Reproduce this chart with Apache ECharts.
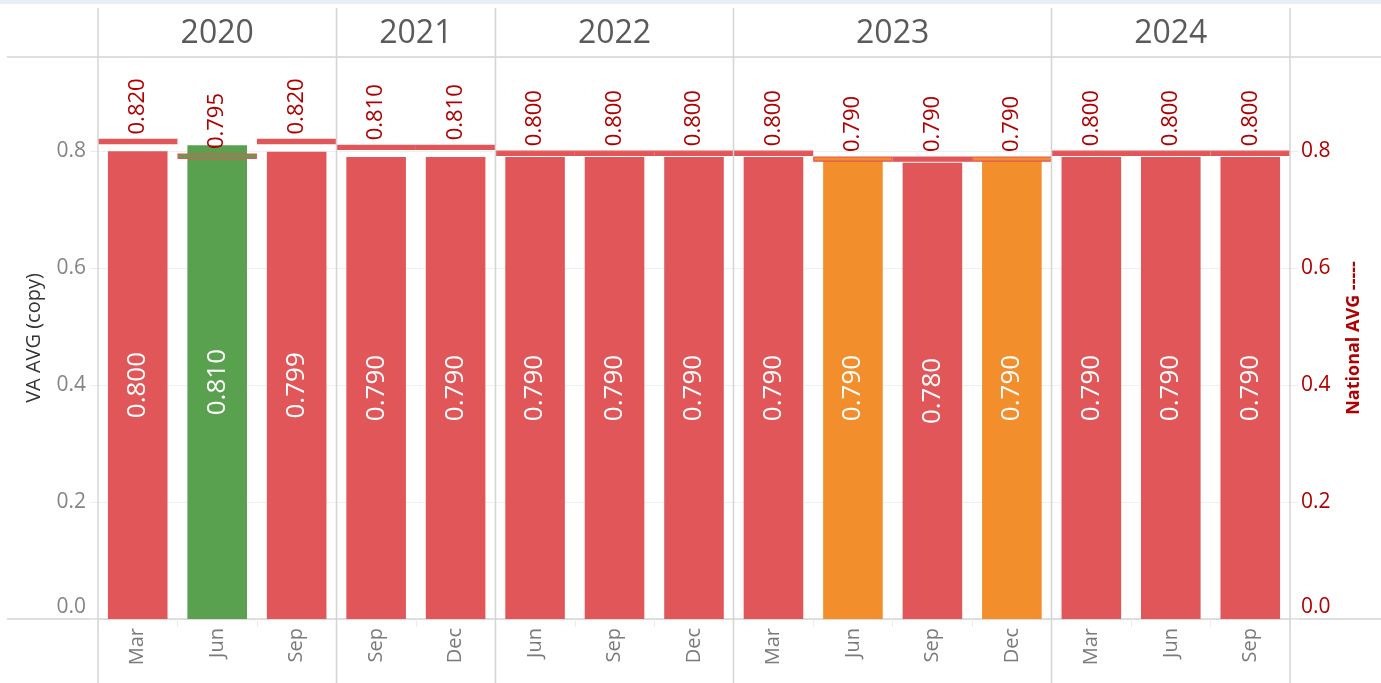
<!DOCTYPE html>
<html>
<head>
<meta charset="utf-8">
<script src="https://cdn.jsdelivr.net/npm/echarts@6/dist/echarts.min.js"></script>
<style>
  html, body { margin: 0; padding: 0; background: #fff; }
  #chart { width: 1381px; height: 683px; }
</style>
</head>
<body>
<div id="chart"></div>
<script>
// Quarter-end periods, grouped by year
const periods = ['Mar', 'Jun', 'Sep', 'Sep', 'Dec', 'Jun', 'Sep', 'Dec', 'Mar', 'Jun', 'Sep', 'Dec', 'Mar', 'Jun', 'Sep'];
const periodYears = ['2020', '2020', '2020', '2021', '2021', '2022', '2022', '2022', '2023', '2023', '2023', '2023', '2024', '2024', '2024'];
const years = ['2020', '2021', '2022', '2023', '2024'];

// VA average (bars) and national average (reference marks)
const vaAvg = [0.800, 0.810, 0.799, 0.790, 0.790, 0.790, 0.790, 0.790, 0.790, 0.790, 0.780, 0.790, 0.790, 0.790, 0.790];
const nationalAvg = [0.820, 0.795, 0.820, 0.810, 0.810, 0.800, 0.800, 0.800, 0.800, 0.790, 0.790, 0.790, 0.800, 0.800, 0.800];

const RED = '#e15759', GREEN = '#59a14f', ORANGE = '#f28e2b';
const LABEL_RED = '#b00000';
const FONT = '"Open Sans", "Noto Sans", sans-serif';
const Y_MAX = 0.961;

function markColor(i) {
  const a = Math.round(vaAvg[i] * 1000), b = Math.round(nationalAvg[i] * 1000);
  if (a > b) return GREEN;
  if (a === b) return ORANGE;
  return RED;
}

function tickFormatter(v) {
  const r = Math.round(v * 10) / 10;
  if (Math.abs(v - r) > 1e-6 || Math.round(r * 10) % 2 !== 0) return '';
  return r === 0 ? '{z|0.0}' : r.toFixed(1);
}

const chart = echarts.init(document.getElementById('chart'), null, { renderer: 'canvas' });

const option = {
  animation: false,
  backgroundColor: '#fff',
  grid: { left: 98, right: 91, top: 57, bottom: 64, containLabel: false },
  xAxis: {
    type: 'category',
    data: periods,
    axisLine: { show: false },
    axisTick: { show: true, interval: 0, length: 8, lineStyle: { color: '#ececec' } },
    axisLabel: {
      interval: 0, rotate: 90, margin: 9,
      color: '#7a7a7a', fontSize: 20, fontFamily: FONT
    }
  },
  yAxis: [
    {
      type: 'value', min: 0, max: Y_MAX, interval: 0.2,
      name: 'VA AVG (copy)', nameLocation: 'middle', nameRotate: 90, nameGap: 54,
      nameTextStyle: { color: '#333', fontSize: 20, fontFamily: FONT },
      axisLine: { show: false },
      axisTick: { show: true, length: 8, lineStyle: { color: '#ececec' } },
      axisLabel: {
        margin: 12, color: '#858585', fontSize: 21, fontFamily: FONT,
        formatter: tickFormatter, showMaxLabel: false,
        rich: { z: { padding: [0, 0, 24, 0], color: '#858585', fontSize: 21, fontFamily: FONT } }
      },
      splitLine: { show: true, lineStyle: { color: '#f0f0f0', width: 1 } }
    },
    {
      type: 'value', min: 0, max: Y_MAX, interval: 0.2, position: 'right',
      name: 'National AVG -----', nameLocation: 'middle', nameRotate: 90, nameGap: 55,
      nameTextStyle: { color: LABEL_RED, fontSize: 18, fontWeight: 'bold', fontFamily: FONT },
      axisLine: { show: false },
      axisTick: { show: true, length: 8, lineStyle: { color: '#ececec' } },
      axisLabel: {
        margin: 11, color: LABEL_RED, fontSize: 21, fontFamily: FONT,
        formatter: tickFormatter, showMaxLabel: false,
        rich: { z: { padding: [0, 0, 24, 0], color: LABEL_RED, fontSize: 21, fontFamily: FONT } }
      },
      splitLine: { show: false }
    }
  ],
  series: [
    {
      name: 'VA AVG',
      type: 'bar',
      yAxisIndex: 0,
      barWidth: '75%',
      data: vaAvg,
      itemStyle: { color: p => markColor(p.dataIndex) },
      label: {
        show: true, position: 'inside', rotate: 90,
        color: '#fff', fontSize: 26, fontFamily: FONT,
        formatter: p => p.value.toFixed(3)
      },
      z: 2
    },
    {
      name: 'National AVG',
      type: 'custom',
      yAxisIndex: 1,
      data: nationalAvg.map((v, i) => [i, v]),
      encode: { x: 0, y: 1 },
      z: 5,
      renderItem: function (params, api) {
        const i = params.dataIndex;
        const v = api.value(1);
        const p = api.coord([api.value(0), v]);
        const w = api.size([1, 0])[0];
        return {
          type: 'group',
          children: [
            {
              type: 'rect',
              shape: { x: p[0] - w / 2 + 0.6, y: p[1], width: w - 1.2, height: 4.2 },
              style: { fill: markColor(i), stroke: RED, lineWidth: 1.2 }
            },
            {
              type: 'text',
              x: p[0], y: p[1] - 5, rotation: Math.PI / 2,
              style: {
                text: v.toFixed(3), fill: LABEL_RED,
                fontSize: 22, fontFamily: FONT,
                align: 'left', verticalAlign: 'middle'
              }
            }
          ]
        };
      }
    }
  ]
};

chart.setOption(option);

// Year header, panel separators and frame lines, placed from the axis scales
function drawFrame() {
  const W = chart.getWidth(), H = chart.getHeight();
  const x0 = chart.convertToPixel({ xAxisIndex: 0 }, 0);
  const cellW = chart.convertToPixel({ xAxisIndex: 0 }, 1) - x0;
  const yTop = chart.convertToPixel({ yAxisIndex: 0 }, Y_MAX);
  const yBase = chart.convertToPixel({ yAxisIndex: 0 }, 0);
  const lineColor = '#d4d4d4';
  const elements = [];

  elements.push({ type: 'rect', shape: { x: 0, y: 0, width: W, height: 4 }, style: { fill: '#e8eef5' }, silent: true });
  elements.push({ type: 'line', shape: { x1: 7, y1: yTop, x2: W, y2: yTop }, style: { stroke: lineColor, lineWidth: 1.5 }, silent: true });
  elements.push({ type: 'line', shape: { x1: 7, y1: yBase, x2: W, y2: yBase }, style: { stroke: lineColor, lineWidth: 1.5 }, silent: true });

  const bounds = [];
  years.forEach(yr => {
    const first = periodYears.indexOf(yr);
    const last = periodYears.lastIndexOf(yr);
    const left = chart.convertToPixel({ xAxisIndex: 0 }, first) - cellW / 2;
    const right = chart.convertToPixel({ xAxisIndex: 0 }, last) + cellW / 2;
    bounds.push(left, right);
    elements.push({
      type: 'text', x: (left + right) / 2, y: (8 + yTop) / 2 + 1,
      style: { text: yr, fill: '#5a5a5a', fontSize: 32, fontFamily: FONT, align: 'center', verticalAlign: 'middle' },
      silent: true
    });
  });
  const uniq = Array.from(new Set(bounds.map(b => Math.round(b * 2) / 2)));
  uniq.forEach(bx => {
    elements.push({ type: 'line', shape: { x1: bx, y1: 8, x2: bx, y2: H }, style: { stroke: lineColor, lineWidth: 1.5 }, silent: true, z: 10 });
  });

  chart.setOption({ graphic: { elements: elements } });
}
drawFrame();
</script>
</body>
</html>
